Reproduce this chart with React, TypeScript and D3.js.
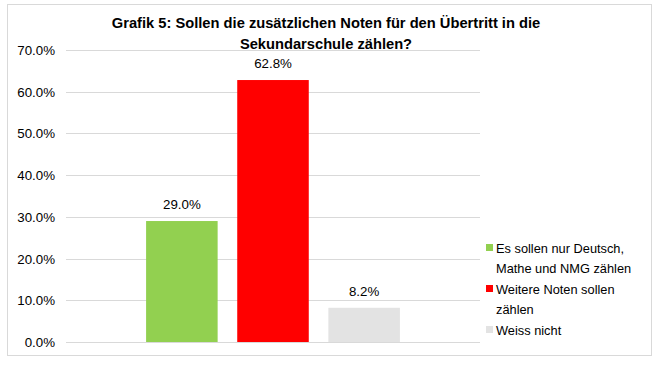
import React from "react";
import * as d3 from "d3";

const titleLines = ["Grafik 5: Sollen die zusätzlichen Noten für den Übertritt in die", "Sekundarschule zählen?"];
const series = ["Es sollen nur Deutsch, Mathe und NMG zählen", "Weitere Noten sollen zählen", "Weiss nicht"];
const legendLines = [["Es sollen nur Deutsch,", "Mathe und NMG zählen"], ["Weitere Noten sollen", "zählen"], ["Weiss nicht"]];
const values = [29.0, 62.8, 8.2];
const colors = ["#92D050", "#FF0000", "#E3E3E3"];
const yTicks = [0, 10, 20, 30, 40, 50, 60, 70];

export default function App() {
  const W = 659, H = 368;
  const left = 66, right = 480, top = 50, bottom = 342;
  const y = d3.scaleLinear().domain([0, 70]).range([bottom, top]);
  const x = d3.scaleBand<string>().domain(series).range([126.5, 419.5]).paddingInner(0.215).paddingOuter(0.215);
  const font = "Arial, 'Liberation Sans', sans-serif";
  return (
    <svg width={W} height={H} style={{ position: "absolute", left: 0, top: 0 }} fontFamily={font}>
      <rect x={0} y={0} width={W} height={H} fill="#fff" />
      <rect x={7.5} y={4.5} width={644} height={351} fill="#fff" stroke="#D9D9D9" />
      {titleLines.map((t, i) => (
        <text key={i} x={326} y={27.5 + i * 21} textAnchor="middle" fontSize={14.7} fontWeight="bold" fill="#000">{t}</text>
      ))}
      {yTicks.map((t) => (
        <g key={t}>
          <line x1={left} x2={right} y1={Math.round(y(t)) + 0.5} y2={Math.round(y(t)) + 0.5} stroke="#D9D9D9" />
          <text x={55} y={y(t) + 5} textAnchor="end" fontSize={13.3} fill="#000">{t.toFixed(1)}%</text>
        </g>
      ))}
      {series.map((s, i) => (
        <g key={s}>
          <rect x={x(s)} y={y(values[i])} width={x.bandwidth()} height={y(0) - y(values[i])} fill={colors[i]} />
          <text x={(x(s) as number) + x.bandwidth() / 2} y={y(values[i]) - 12} textAnchor="middle" fontSize={13.3} fill="#000">{values[i].toFixed(1)}%</text>
        </g>
      ))}
      {legendLines.map((lines, i) => {
        const y0 = [248, 289, 330][i];
        return (
          <g key={i}>
            <rect x={486} y={y0 - 4} width={7} height={7} fill={colors[i]} />
            {lines.map((l, j) => (
              <text key={j} x={496} y={y0 + 5 + j * 20} fontSize={12.8} fill="#000">{l}</text>
            ))}
          </g>
        );
      })}
    </svg>
  );
}
